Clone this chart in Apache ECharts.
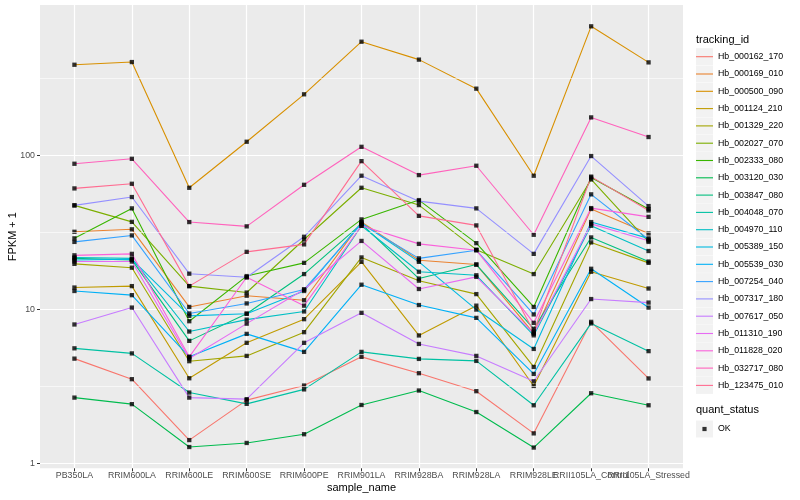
<!DOCTYPE html>
<html><head><meta charset="utf-8">
<script src="https://cdn.jsdelivr.net/npm/echarts@6/dist/echarts.min.js"></script>
<style>html,body{margin:0;padding:0;background:#fff}#c{width:800px;height:500px}</style>
</head><body><div id="c"></div>
<script>
const categories = ['PB350LA','RRIM600LA','RRIM600LE','RRIM600SE','RRIM600PE','RRIM901LA','RRIM928BA','RRIM928LA','RRIM928LE','RRII105LA_Control','RRII105LA_Stressed'];
const trackingIds = ['Hb_000162_170','Hb_000169_010','Hb_000500_090','Hb_001124_210','Hb_001329_220','Hb_002027_070','Hb_002333_080','Hb_003120_030','Hb_003847_080','Hb_004048_070','Hb_004970_110','Hb_005389_150','Hb_005539_030','Hb_007254_040','Hb_007317_180','Hb_007617_050','Hb_011310_190','Hb_011828_020','Hb_032717_080','Hb_123475_010'];
const seriesColors = ['#F8766D','#EA8331','#D89000','#C09B00','#A3A500','#7CAE00','#39B600','#00BB4E','#00BF7D','#00C1A3','#00BFC4','#00BAE0','#00B0F6','#35A2FF','#9590FF','#C77CFF','#E76BF3','#FA62DB','#FF62BC','#FF6C91'];

// FPKM + 1 values, one array per tracking_id (order = categories)
const Hb_000162_170 = [4.8, 3.53, 1.42, 2.58, 3.21, 4.93, 3.86, 2.95, 1.57, 8.32, 3.57];
const Hb_000169_010 = [32, 33.2, 10.4, 12.3, 11.5, 37, 20.9, 19.6, 7.0, 45, 31.2];
const Hb_000500_090 = [389, 405, 61.8, 123, 250, 549, 420, 272, 74, 691, 403];
const Hb_001124_210 = [13.9, 14.2, 3.58, 6.08, 8.66, 20.4, 6.79, 10.6, 3.19, 17.6, 13.7];
const Hb_001329_220 = [19.8, 18.7, 4.62, 5.0, 7.13, 21.8, 15.4, 12.6, 4.24, 27.3, 20.1];
const Hb_002027_070 = [47.5, 37.1, 14.2, 12.9, 28.5, 61.8, 47.7, 24.5, 17.0, 70, 27.5];
const Hb_002333_080 = [29, 45.4, 8.4, 16.5, 20.1, 38.5, 51.4, 27, 10.4, 72, 45];
const Hb_003120_030 = [2.68, 2.43, 1.28, 1.36, 1.55, 2.40, 2.98, 2.16, 1.27, 2.86, 2.39];
const Hb_003847_080 = [21.5, 21, 6.26, 9.4, 17.0, 36, 15.9, 19.6, 7.5, 29.4, 20.5];
const Hb_004048_070 = [5.6, 5.19, 2.89, 2.44, 3.03, 5.31, 4.78, 4.64, 2.39, 8.13, 5.37];
const Hb_004970_110 = [21.8, 21.5, 7.2, 8.6, 9.72, 35, 17.6, 16.7, 6.8, 35, 24];
const Hb_005389_150 = [21, 21.2, 9.1, 9.4, 13.2, 36.5, 20.4, 10.0, 5.55, 37, 29];
const Hb_005539_030 = [13.2, 12.4, 4.93, 6.95, 5.31, 14.5, 10.7, 8.83, 3.82, 18.4, 10.3];
const Hb_007254_040 = [27.5, 30.3, 9.43, 10.96, 13.5, 36, 21.5, 24.3, 9.3, 56, 28.5];
const Hb_007317_180 = [47.5, 53.8, 17.1, 16.2, 29.7, 74, 50.6, 45.4, 23.0, 99.3, 47];
const Hb_007617_050 = [8.0, 10.3, 2.68, 2.62, 6.08, 9.52, 5.98, 5.0, 3.42, 11.7, 11.1];
const Hb_011310_190 = [20.5, 20.5, 4.81, 8.1, 13.5, 27.9, 13.6, 16.3, 7.0, 36, 28];
const Hb_011828_020 = [22.5, 23, 4.93, 16.2, 10.6, 35, 26.7, 24.3, 8.2, 45.6, 40];
const Hb_032717_080 = [88.5, 95.3, 37, 34.7, 64.6, 114, 74.7, 85.9, 30.6, 177, 132];
const Hb_123475_010 = [61.2, 65.6, 14.2, 23.7, 26.5, 92, 40.6, 35.2, 7.2, 73, 44];

const seriesValues = [Hb_000162_170,Hb_000169_010,Hb_000500_090,Hb_001124_210,Hb_001329_220,Hb_002027_070,Hb_002333_080,Hb_003120_030,Hb_003847_080,Hb_004048_070,Hb_004970_110,Hb_005389_150,Hb_005539_030,Hb_007254_040,Hb_007317_180,Hb_007617_050,Hb_011310_190,Hb_011828_020,Hb_032717_080,Hb_123475_010];

const yTickValues = [1, 10, 100];
const yTickLabels = ['1', '10', '100'];
const yMinorValues = [3.1623, 31.623, 316.23];
const quantStatus = ['OK'];

const FONT = '"Liberation Sans", Arial, Helvetica, sans-serif';
const lg = v => Math.log10(v);
const yMajorPos = yTickValues.map(lg);
const yMinorPos = yMinorValues.map(lg);
const catIdx = categories.map((c, i) => i);
const evenIdx = catIdx.filter(i => i % 2 === 0);
const oddIdx = catIdx.filter(i => i % 2 === 1);

const lineSeries = trackingIds.map((id, k) => ({
  type: 'line', name: id,
  data: seriesValues[k].map((v, i) => [i, lg(v)]),
  symbol: 'none', silent: true, z: 2,
  lineStyle: { color: seriesColors[k], width: 1.1 },
  itemStyle: { color: seriesColors[k] }
}));
const pointData = [];
seriesValues.forEach(arr => arr.forEach((v, i) => pointData.push([i, lg(v)])));
const pointSeries = {
  type: 'scatter', name: quantStatus[0], data: pointData,
  symbol: 'rect', symbolSize: 4.3, silent: true, z: 3,
  itemStyle: { color: '#000' }
};
// minor gridlines (ggplot log-scale minor breaks), below the data lines
const minorGridSeries = {
  type: 'line', name: '_minor', data: [], silent: true, z: 1,
  markLine: {
    silent: true, symbol: 'none', animation: false,
    label: { show: false },
    lineStyle: { color: '#ffffff', width: 0.6, type: 'solid' },
    data: yMinorPos.map(p => ({ yAxis: p }))
  }
};

const keyTop = 48.2, keyStep = 17.3;
const keyRects = trackingIds.map((id, k) => ({
  type: 'rect', shape: { x: 696, y: keyTop + keyStep * k, width: 17, height: 17 },
  style: { fill: '#F2F2F2' }, z: 0, silent: true
}));
keyRects.push({ type: 'rect', shape: { x: 696, y: 420.5, width: 17, height: 17 }, style: { fill: '#F2F2F2' }, z: 0, silent: true });

const yMin = -0.031, yMax = 2.978;
const xLabelStyle = { fontSize: 8.8, color: '#4D4D4D', margin: 3, hideOverlap: false, showMinLabel: true, showMaxLabel: true, fontFamily: FONT, formatter: v => categories[Math.round(v)] };
const chart = echarts.init(document.getElementById('c'), null, { renderer: 'canvas' });
chart.setOption({
  animation: false,
  backgroundColor: '#fff',
  textStyle: { fontFamily: FONT },
  title: [
    { text: 'tracking_id', left: 696, top: 34, padding: 0, textStyle: { fontSize: 11, fontWeight: 'normal', color: '#000', fontFamily: FONT } },
    { text: 'quant_status', left: 696, top: 404.5, padding: 0, textStyle: { fontSize: 11, fontWeight: 'normal', color: '#000', fontFamily: FONT } }
  ],
  legend: [
    { data: trackingIds, orient: 'vertical', left: 696, top: keyTop, padding: 0,
      itemWidth: 17, itemHeight: 17, itemGap: 0.3, selectedMode: false,
      icon: 'path://M0,0 M17,17 M0,7.95 L17,7.95 L17,9.05 L0,9.05 Z',
      textStyle: { fontSize: 8.8, color: '#000', fontFamily: FONT } },
    { data: quantStatus, orient: 'vertical', left: 696, top: 420.5, padding: 0,
      itemWidth: 17, itemHeight: 17, selectedMode: false,
      icon: 'path://M0,0 M17,17 M6.4,6.4 L10.6,6.4 L10.6,10.6 L6.4,10.6 Z',
      textStyle: { fontSize: 8.8, color: '#000', fontFamily: FONT } }
  ],
  graphic: { elements: keyRects },
  grid: { left: 40, right: 117, top: 5, bottom: 31.7, show: true, backgroundColor: '#EBEBEB', borderWidth: 0, containLabel: false, outerBoundsMode: 'none' },
  xAxis: [
    {
      type: 'value', min: -0.6, max: 10.6, position: 'bottom',
      axisLine: { show: false, onZero: false },
      axisTick: { show: true, customValues: catIdx, length: 3, lineStyle: { color: '#333', width: 1 } },
      axisLabel: Object.assign({ customValues: evenIdx }, xLabelStyle),
      splitLine: { show: true, lineStyle: { color: '#fff', width: 1.2 } },
      name: 'sample_name', nameLocation: 'middle', nameGap: 14, nameMoveOverlap: false,
      nameTextStyle: { fontSize: 11, color: '#000', fontFamily: FONT }
    },
    {
      type: 'value', min: -0.6, max: 10.6, position: 'bottom', offset: 0,
      axisLine: { show: false, onZero: false },
      axisTick: { show: false, customValues: oddIdx },
      axisLabel: Object.assign({ customValues: oddIdx }, xLabelStyle),
      splitLine: { show: false }
    }
  ],
  yAxis: {
    type: 'value', min: yMin, max: yMax, position: 'left',
    axisLine: { show: false, onZero: false },
    axisTick: { show: true, customValues: yMajorPos, length: 3, lineStyle: { color: '#333', width: 1 } },
    axisLabel: { customValues: yMajorPos, formatter: v => { const i = yMajorPos.findIndex(p => Math.abs(p - v) < 1e-6); return i >= 0 ? yTickLabels[i] : ''; }, fontSize: 8.8, color: '#4D4D4D', margin: 5, showMinLabel: true, showMaxLabel: true, fontFamily: FONT },
    splitLine: { show: true, lineStyle: { color: '#fff', width: 1.2 } },
    name: 'FPKM + 1', nameLocation: 'middle', nameGap: 22, nameMoveOverlap: false,
    nameTextStyle: { fontSize: 11, color: '#000', fontFamily: FONT }
  },
  series: [minorGridSeries].concat(lineSeries, [pointSeries])
});
</script></body></html>
